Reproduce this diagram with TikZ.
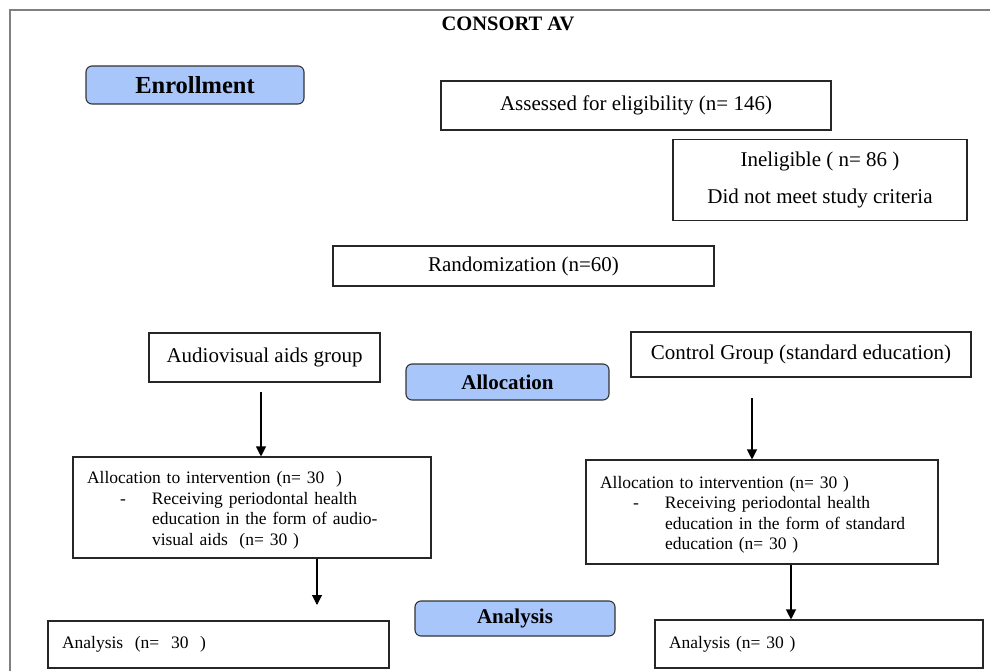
\documentclass[tikz,border=0pt]{standalone}
\usepackage{fontspec}
\setmainfont{Liberation Serif}
\usetikzlibrary{arrows.meta,calc}
\definecolor{stageblue}{HTML}{A9C6FA}
\begin{document}
\begin{tikzpicture}[x=1pt,y=-1pt,
  box/.style={draw=black!85, line width=1.1pt, inner sep=0pt, font=\fontsize{21}{25}\selectfont},
  smallbox/.style={draw=black!85, line width=1.1pt, inner sep=0pt, align=left, font=\fontsize{17.5}{20.5}\selectfont},
  stage/.style={draw=black!80, fill=stageblue, rounded corners=6pt, line width=1.1pt, inner sep=0pt, font=\bfseries\fontsize{21}{25}\selectfont},
  arr/.style={line width=1.1pt, -{Triangle[length=10pt,width=10pt]}},
  framing/.style={draw=black!50, line width=2pt}]
\useasboundingbox (0,0) rectangle (990,671);
\draw[framing] (10,671) -- (10,10) -- (990,10);

\node[font=\bfseries\fontsize{20.5}{24}\selectfont] (title) at (508,24) {CONSORT AV};

\node[stage, minimum width=218pt, minimum height=38pt, font=\bfseries\fontsize{24.5}{28}\selectfont] (enrol) at (195,85) {Enrollment};
\node[box, minimum width=390pt, minimum height=49pt] (assess) at (636,105.5) {Assessed for eligibility (n= 146)};
\node[box, minimum width=294pt, minimum height=81pt, align=center, font=\fontsize{21}{37}\selectfont] (inel) at (820,180) {Ineligible ( n= 86 )\\Did not meet study criteria};
\node[box, minimum width=381pt, minimum height=40pt] (rand) at (523.5,266) {Randomization (n=60)};
\node[box, minimum width=231pt, minimum height=49pt] (av) at (264.5,357.5) {Audiovisual aids group};
\node[stage, minimum width=203pt, minimum height=36pt] (alloc) at (507.5,382) {Allocation};
\node[box, minimum width=340pt, minimum height=45pt] (ctrl) at (801,354.5) {Control Group (standard education)};

\node[smallbox, minimum width=358pt, minimum height=101pt, text width=330pt] (la) at (252,507.5)
 {\rule{0pt}{18pt}Allocation to intervention (n=~30~~)\\
  \makebox[65pt][l]{\hspace*{33pt}-}Receiving periodontal health\\
  \hspace*{65pt}education in the form of audio-\\
  \hspace*{65pt}visual aids~~(n=~30~)};
\node[smallbox, minimum width=352pt, minimum height=104pt, text width=324pt] (ra) at (762,512)
 {\rule{0pt}{18pt}Allocation to intervention (n=~30~)\\
  \makebox[65pt][l]{\hspace*{33pt}-}Receiving periodontal health\\
  \hspace*{65pt}education in the form of standard\\
  \hspace*{65pt}education (n=~30~)};

\node[stage, minimum width=200pt, minimum height=35pt] (anal) at (515,618.5) {Analysis};
\node[smallbox, minimum width=341pt, minimum height=47pt, text width=313pt] (ln) at (218.5,644.5) {Analysis~~(n=~~30~~)};
\node[smallbox, minimum width=328pt, minimum height=48pt, text width=300pt] (rn) at (819,644) {Analysis (n=~30~)};

\coordinate (a1) at (261,392);
\coordinate (a2) at (317,605);
\coordinate (a3) at (752,398);
\coordinate (a4) at (791,0);
\draw[arr] (a1) -- (a1 |- la.north);
\draw[arr] (la.south -| a2) -- (a2);
\draw[arr] (a3) -- (a3 |- ra.north);
\draw[arr] (ra.south -| a4) -- (rn.north -| a4);
\end{tikzpicture}
\end{document}
